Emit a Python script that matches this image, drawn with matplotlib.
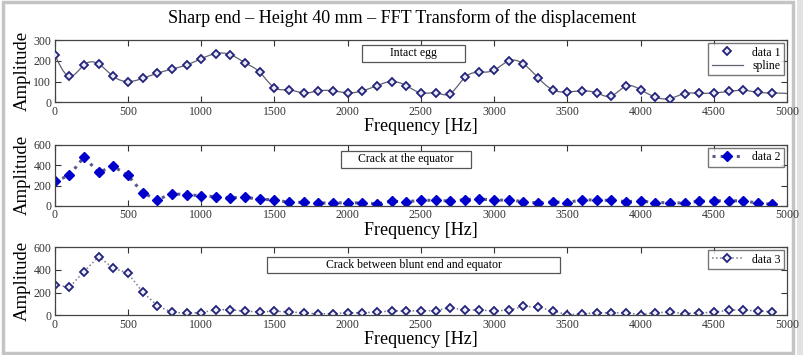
import numpy as np
import matplotlib
matplotlib.use("Agg")
import matplotlib.pyplot as plt
from matplotlib.patches import Rectangle

# frequencies (Hz), one point every 100 Hz
freq = np.arange(0, 5000, 100)

intact = [230, 125, 180, 185, 125, 100, 115, 140, 160, 180,
          210, 235, 230, 190, 145, 70, 60, 45, 55, 55,
          45, 55, 80, 100, 80, 45, 45, 42, 120, 145,
          155, 200, 185, 118, 60, 50, 55, 45, 30, 78,
          60, 25, 18, 42, 43, 45, 52, 58, 48, 45]

crack_equator = [240, 300, 480, 330, 390, 300, 130, 60, 120, 110,
                 100, 90, 80, 85, 65, 60, 35, 35, 28, 30,
                 30, 30, 20, 45, 40, 55, 55, 48, 62, 70,
                 55, 58, 42, 28, 40, 32, 62, 55, 55, 42,
                 48, 32, 32, 28, 45, 50, 50, 50, 28, 15]

crack_blunt = [270, 245, 385, 515, 415, 370, 205, 85, 25, 20,
               22, 50, 48, 35, 30, 35, 30, 20, 12, 15,
               22, 22, 28, 38, 38, 40, 40, 68, 45, 45,
               38, 45, 78, 72, 38, 5, 12, 22, 22, 22,
               5, 22, 28, 15, 22, 25, 45, 45, 38, 30]

titles = ["Intact egg", "Crack at the equator", "Crack between blunt end and equator"]
ytick_sets = [[0, 100, 200, 300], [0, 200, 400, 600], [0, 200, 400, 600]]


def natural_spline(x, y, xs):
    # natural cubic spline, evaluated on xs (last segment extended past the end)
    x = np.asarray(x, float)
    y = np.asarray(y, float)
    n = len(x)
    h = np.diff(x)
    A = np.zeros((n, n))
    b = np.zeros(n)
    A[0, 0] = A[-1, -1] = 1
    for i in range(1, n - 1):
        A[i, i - 1] = h[i - 1]
        A[i, i] = 2 * (h[i - 1] + h[i])
        A[i, i + 1] = h[i]
        b[i] = 3 * ((y[i + 1] - y[i]) / h[i] - (y[i] - y[i - 1]) / h[i - 1])
    c = np.linalg.solve(A, b)
    bb = (y[1:] - y[:-1]) / h - h * (2 * c[:-1] + c[1:]) / 3
    d = (c[1:] - c[:-1]) / (3 * h)
    idx = np.clip(np.searchsorted(x, xs, side="right") - 1, 0, n - 2)
    t = xs - x[idx]
    return y[idx] + bb[idx] * t + c[idx] * t ** 2 + d[idx] * t ** 3


plt.rcParams["font.family"] = ["Liberation Serif", "DejaVu Serif"]

fig = plt.figure(figsize=(8.04, 3.55), dpi=100)
# light grey frame round the picture, drawn under the axes
fig.patches.append(Rectangle((0.004, 0.006), 0.982, 0.988, transform=fig.transFigure,
                             fill=False, edgecolor="#c4c4c4", linewidth=2.5, zorder=-1))
fig.patches.append(Rectangle((0.991, 0.0), 0.009, 1.0, transform=fig.transFigure,
                             facecolor="#e2e2e2", edgecolor="none", zorder=-1))

fig.text(0.5, 0.950, "Sharp end \u2013 Height 40 mm \u2013 FFT Transform of the displacement",
         ha="center", va="center", fontsize=13)

positions = [[0.068, 0.712, 0.911, 0.175],
             [0.068, 0.420, 0.911, 0.172],
             [0.068, 0.112, 0.911, 0.192]]

# annotation box (center x, center y, width, height) in axes fraction
box_geom = [(0.49, 0.79, 0.140, 0.27),
            (0.48, 0.76, 0.178, 0.27),
            (0.49, 0.74, 0.400, 0.23)]

axes = [fig.add_axes(p) for p in positions]
navy = "#22227a"

# panel 1: points and spline
ax = axes[0]
xs = np.linspace(0, 5000, 500)
ax.plot(xs, natural_spline(freq, intact, xs), color="#606070", lw=0.9, label="spline", zorder=2)
ax.plot(freq, intact, ls="none", marker="D", ms=4, mfc="#e8e8f4", mec=navy, mew=1.3,
        label="data 1", zorder=3)
h, l = ax.get_legend_handles_labels()
ax.legend(h[::-1], l[::-1], loc="upper right", fontsize=8.5, frameon=True, fancybox=False,
          edgecolor="#555555", handlelength=2.6, borderpad=0.3, labelspacing=0.1,
          borderaxespad=0.25)

# panel 2: filled diamonds, thick dotted line
ax = axes[1]
ax.plot(freq, crack_equator, ls=":", lw=2.2, color="#5a5a8a", marker="D", ms=5.5,
        mfc="#0000cc", mec="#0000cc", label="data 2")
ax.legend(loc="upper right", fontsize=8.5, frameon=True, fancybox=False, edgecolor="#555555",
          handlelength=2.6, borderpad=0.3, borderaxespad=0.25)

# panel 3: open diamonds, thin dotted line
ax = axes[2]
ax.plot(freq, crack_blunt, ls=":", lw=1.1, color="#7a7a90", marker="D", ms=4.5,
        mfc="#eeeef8", mec=navy, mew=1.3, label="data 3")
ax.legend(loc="upper right", fontsize=8.5, frameon=True, fancybox=False, edgecolor="#555555",
          handlelength=2.6, borderpad=0.3, borderaxespad=0.25)

for ax, txt, yt, (bx, by, bw, bh) in zip(axes, titles, ytick_sets, box_geom):
    ax.set_xlim(0, 5000)
    ax.set_ylim(yt[0], yt[-1])
    ax.set_xticks(np.arange(0, 5001, 500))
    ax.set_yticks(yt)
    ax.tick_params(direction="in", top=True, right=True, labelsize=8.5, length=4,
                   width=0.8, colors="#333333", pad=2.5)
    for s in ax.spines.values():
        s.set_color("#444444")
        s.set_linewidth(0.9)
    ax.set_xlabel("Frequency [Hz]", fontsize=13, labelpad=0.5)
    ax.set_ylabel("Amplitude", fontsize=13.5, labelpad=2)
    ax.add_patch(Rectangle((bx - bw / 2, by - bh / 2), bw, bh, transform=ax.transAxes,
                           facecolor="white", edgecolor="#555555", lw=0.9, zorder=4))
    ax.text(bx, by, txt, transform=ax.transAxes, ha="center", va="center", fontsize=8.5,
            zorder=5)

fig.savefig("out.png", dpi=100)
